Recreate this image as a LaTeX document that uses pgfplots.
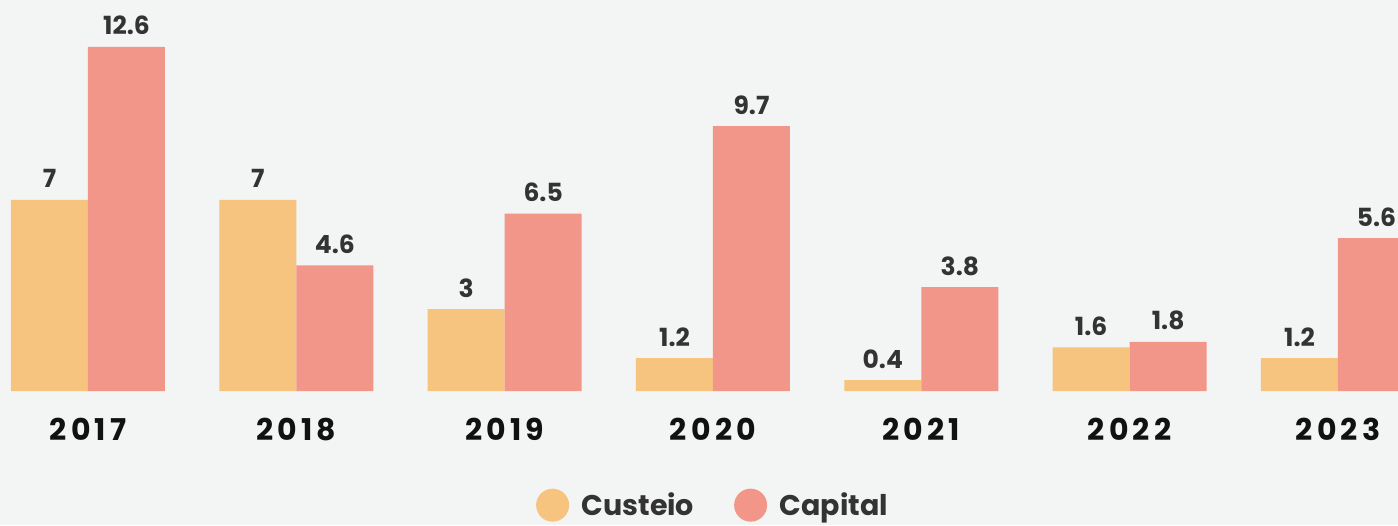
\documentclass[border=0pt]{standalone}
\usepackage{pgfplots}
\pgfplotsset{compat=1.18}
\usepackage{fontspec}
\setmainfont{Poppins}
\newfontfamily\yearfont[LetterSpace=14]{Poppins}
\definecolor{bgc}{RGB}{243,244,244}
\definecolor{cust}{RGB}{247,196,128}
\definecolor{capi}{RGB}{242,150,138}
\definecolor{vlab}{RGB}{51,51,51}
\definecolor{ylab}{RGB}{17,17,17}
\begin{document}
\begin{tikzpicture}[x=1pt,y=1pt]
\fill[bgc] (0,-134) rectangle (1398,391);
\useasboundingbox (0,-134) rectangle (1398,391);
\begin{axis}[
  at={(0,0)}, anchor=south west,
  scale only axis, width=1398pt, height=391pt,
  xmin=-0.4224, xmax=6.2880, ymin=0, ymax=14.32,
  axis line style={draw=none}, major tick length=0pt,
  /pgf/number format/assume math mode=true,
  ybar=0pt, bar width=77pt,
  xtick={0,1,2,3,4,5,6}, xticklabels={2017,2018,2019,2020,2021,2022,2023},
  ytick=\empty,
  xticklabel style={font=\yearfont\bfseries\fontsize{30}{30}\selectfont, text=ylab, anchor=base, yshift=-49pt, inner sep=0pt},
  nodes near coords,
  every node near coord/.append style={font=\bfseries\fontsize{25}{25}\selectfont, text=vlab, anchor=base, inner sep=0pt, yshift=12pt},
  legend style={at={(0.510,-0.292)}, anchor=center, draw=none, fill=none, legend columns=2,
    font=\bfseries\fontsize{28.5}{28.5}\selectfont, text=vlab,
    /tikz/every even column/.append style={column sep=38pt}},
  legend image code/.code={\fill[#1] (0pt,0pt) circle (16.5pt); \path (-16.5pt,0pt) (27pt,0pt);},
]
\addplot[fill=cust, draw=none] coordinates {(0,7) (1,7) (2,3) (3,1.2) (4,0.4) (5,1.6) (6,1.2)};
\addplot[fill=capi, draw=none] coordinates {(0,12.6) (1,4.6) (2,6.5) (3,9.7) (4,3.8) (5,1.8) (6,5.6)};
\legend{Custeio,Capital}
\end{axis}
\end{tikzpicture}
\end{document}
